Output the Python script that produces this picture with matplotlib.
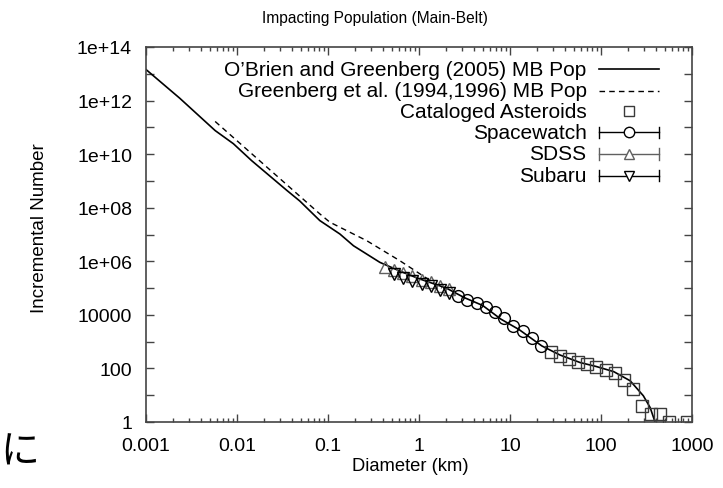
import matplotlib
matplotlib.use('Agg')
import matplotlib.pyplot as plt
import matplotlib.ticker as ticker
from matplotlib.lines import Line2D
import numpy as np

# O'Brien and Greenberg (2005) model, read as log10 values
OBRIEN_LOGD = [-3.0, -2.63, -2.24, -2.04, -1.84, -1.45, -1.31, -1.09, -0.87, -0.72, -0.43,
               -0.2, 0.0, 0.3, 0.5, 0.7, 0.9, 1.1, 1.35, 1.55, 1.77, 1.95, 2.14, 2.32,
               2.465, 2.54, 2.59, 2.62]
OBRIEN_LOGN = [13.16, 12.09, 10.88, 10.39, 9.76, 8.64, 8.25, 7.52, 7.02, 6.58, 5.96,
               5.62, 5.35, 5.0, 4.64, 4.35, 3.84, 3.45, 2.84, 2.5, 2.22, 2.07, 1.88, 1.54,
               0.98, 0.54, 0.04, -0.5]

# Greenberg et al. (1994,1996) model
GREENBERG_LOGD = [-2.24, -1.09, -0.98, -0.575, -0.21, 0.15, 0.25]
GREENBERG_LOGN = [11.22, 7.77, 7.46, 6.77, 6.02, 5.22, 5.0]

# Cataloged asteroids
CATALOG_LOGD = [1.45, 1.55, 1.65, 1.75, 1.85, 1.95, 2.05, 2.15, 2.25, 2.35, 2.45, 2.55,
                2.65, 2.75, 2.95]
CATALOG_LOGN = [2.60, 2.45, 2.35, 2.25, 2.15, 2.07, 1.95, 1.82, 1.55, 1.25, 0.602, 0.301,
                0.301, 0.0, 0.0]

# Spacewatch
SPACEWATCH_LOGD = [0.432, 0.531, 0.633, 0.736, 0.835, 0.934, 1.036, 1.139, 1.237, 1.336]
SPACEWATCH_LOGN = [4.71, 4.56, 4.44, 4.30, 4.12, 3.89, 3.57, 3.39, 3.13, 2.82]

# SDSS
SDSS_LOGD = [-0.374, -0.275, -0.172, -0.074, 0.03, 0.128, 0.23, 0.33]
SDSS_LOGN = [5.78, 5.69, 5.56, 5.44, 5.31, 5.21, 5.07, 4.96]

# Subaru
SUBARU_LOGD = [-0.275, -0.172, -0.074, 0.03, 0.128, 0.23, 0.33]
SUBARU_LOGN = [5.52, 5.36, 5.27, 5.15, 5.06, 4.94, 4.81]

XTICKS = [0.001, 0.01, 0.1, 1, 10, 100, 1000]
XTICK_LABELS = ['0.001', '0.01', '0.1', '1', '10', '100', '1000']
YTICK_EXP = list(range(0, 15))
YTICK_LABELS = {14: '1e+14', 12: '1e+12', 10: '1e+10', 8: '1e+08', 6: '1e+06',
                4: '10000', 2: '100', 0: '1'}

FONT = 'Liberation Sans'
plt.rcParams['font.family'] = [FONT, 'DejaVu Sans']


def p10(v):
    return np.power(10.0, np.array(v))


fig = plt.figure(figsize=(7.23, 4.89), dpi=100)
ax = fig.add_axes([146 / 723, 66 / 489, 546 / 723, 375 / 489])

ax.plot(p10(OBRIEN_LOGD), p10(OBRIEN_LOGN), color='black', lw=1.2)
ax.plot(p10(GREENBERG_LOGD), p10(GREENBERG_LOGN), color='black', lw=1.0, ls=(0, (4, 3)))
ax.plot(p10(CATALOG_LOGD), p10(CATALOG_LOGN), ls='none', marker='s', ms=8,
        mfc='none', mec='#3a3a3a', mew=1.0)
ax.plot(p10(SPACEWATCH_LOGD), p10(SPACEWATCH_LOGN), ls='none', marker='o', ms=8.5,
        mfc='none', mec='black', mew=1.0)
ax.plot(p10(SDSS_LOGD), p10(SDSS_LOGN), ls='none', marker='^', ms=8,
        mfc='none', mec='#606060', mew=1.0)
ax.plot(p10(SUBARU_LOGD), p10(SUBARU_LOGN), ls='none', marker='v', ms=8,
        mfc='none', mec='black', mew=1.0)

ax.set_xscale('log')
ax.set_yscale('log')
ax.set_xlim(0.001, 1000)
ax.set_ylim(1, 1e14)

ax.xaxis.set_major_locator(ticker.FixedLocator(XTICKS))
ax.xaxis.set_major_formatter(ticker.FixedFormatter(XTICK_LABELS))
ax.xaxis.set_minor_locator(ticker.LogLocator(base=10, subs=np.arange(2, 10), numticks=20))
ax.xaxis.set_minor_formatter(ticker.NullFormatter())

ax.yaxis.set_major_locator(ticker.FixedLocator([10.0 ** e for e in YTICK_EXP]))
ax.yaxis.set_major_formatter(ticker.FixedFormatter([YTICK_LABELS.get(e, '') for e in YTICK_EXP]))
ax.yaxis.set_minor_locator(ticker.NullLocator())

ax.tick_params(which='both', direction='in', top=True, right=True, color='#444444',
               labelsize=14, width=1.0)
ax.tick_params(which='major', length=6)
ax.tick_params(which='minor', length=3)
ax.tick_params(axis='x', which='major', pad=11)
ax.tick_params(axis='y', which='major', pad=10)
for s in ax.spines.values():
    s.set_color('#444444')
    s.set_linewidth(1.2)

fig.text(375 / 723, 1 - 19 / 489, 'Impacting Population (Main-Belt)', ha='center',
         va='center', fontsize=11.2)
fig.text(410 / 723, 1 - 467 / 489, 'Diameter (km)', ha='center', va='center', fontsize=13.2)
fig.text(40 / 723, 1 - 228 / 489, 'Incremental Number', ha='center', va='center',
         rotation=90, fontsize=13.5)
fig.text(39 / 723, 1 - 452 / 489, 'に', ha='right', va='center', fontsize=28,
         family=['Noto Sans CJK JP', 'DejaVu Sans'])

# gnuplot style key: right aligned text, sample to the right
key = [
    ("O\u2019Brien and Greenberg (2005) MB Pop", dict(color='black', lw=1.2), None),
    ("Greenberg et al. (1994,1996) MB Pop", dict(color='black', lw=1.0, ls=(0, (4, 3))), None),
    ("Cataloged Asteroids", None, dict(marker='s', mec='#3a3a3a', ms=7)),
    ("Spacewatch", dict(color='black', lw=1.0), dict(marker='o', mec='black', ms=7.5)),
    ("SDSS", dict(color='#606060', lw=1.0), dict(marker='^', mec='#606060', ms=7)),
    ("Subaru", dict(color='black', lw=1.0), dict(marker='v', mec='black', ms=7)),
]
key_y = [0.941, 0.883, 0.829, 0.773, 0.715, 0.657]
x_text, x0, x1 = 0.807, 0.830, 0.940
err_bars = [False, False, False, True, True, True]
for (label, line_kw, mark_kw), y, eb in zip(key, key_y, err_bars):
    ax.text(x_text, y, label, transform=ax.transAxes, ha='right', va='center', fontsize=15)
    if line_kw is not None:
        ax.add_line(Line2D([x0, x1], [y, y], transform=ax.transAxes, **line_kw))
        if eb:
            for xx in (x0, x1):
                ax.add_line(Line2D([xx, xx], [y - 0.015, y + 0.015], transform=ax.transAxes,
                                   color=line_kw['color'], lw=1.0))
    if mark_kw is not None:
        ax.add_line(Line2D([(x0 + x1) / 2], [y], transform=ax.transAxes, ls='none',
                           mfc='white', mew=1.0, **mark_kw))

fig.savefig('out.png', dpi=100)
